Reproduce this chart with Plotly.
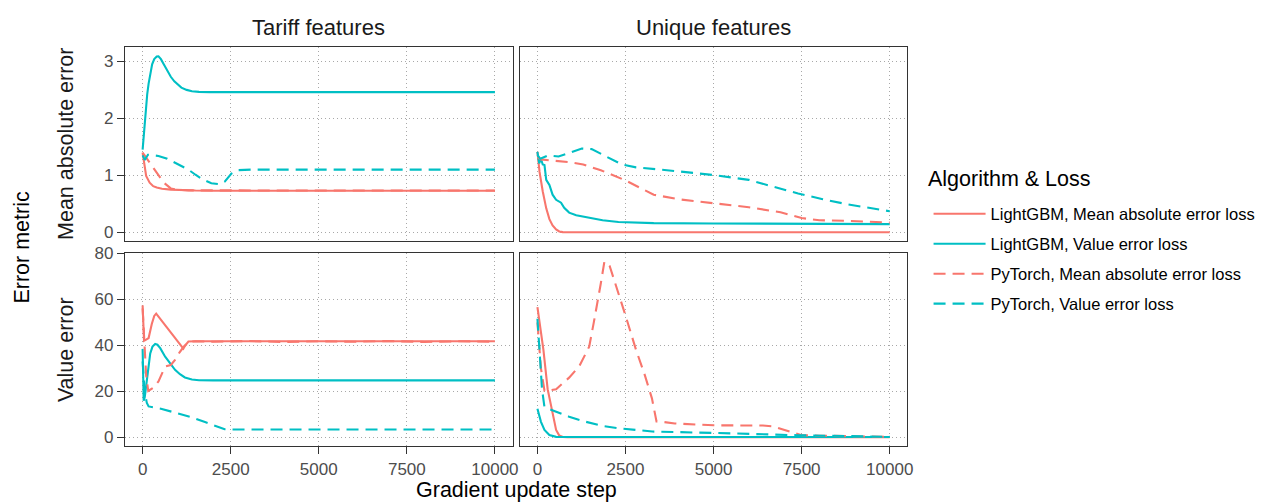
import plotly.graph_objects as go

# ---- data: gradient step vs. error metric, per feature set and series ----
# Tariff features, mean absolute error
tar_mae_lgb_mae_x = [0, 50, 100, 200, 300, 400, 550, 800, 1100, 1500, 2000, 10000]
tar_mae_lgb_mae_y = [1.40, 1.16, 0.99, 0.87, 0.81, 0.785, 0.764, 0.748, 0.738, 0.733, 0.73, 0.73]
tar_mae_lgb_val_x = [0, 40, 80, 130, 170, 220, 270, 330, 400, 450, 520, 600, 700, 800, 900, 1000,
                     1100, 1250, 1400, 1600, 1900, 10000]
tar_mae_lgb_val_y = [1.45, 1.80, 2.13, 2.42, 2.61, 2.80, 2.95, 3.04, 3.085, 3.09, 3.04, 2.95, 2.83,
                     2.73, 2.65, 2.59, 2.54, 2.50, 2.475, 2.465, 2.46, 2.46]
tar_mae_pt_mae_x = [0, 200, 400, 600, 800, 1000, 1300, 10000]
tar_mae_pt_mae_y = [1.40, 1.22, 1.04, 0.87, 0.77, 0.745, 0.735, 0.733]
tar_mae_pt_val_x = [0, 60, 150, 450, 700, 1000, 1300, 1500, 1700, 1950, 2190, 2330, 2520, 2710,
                    3080, 10000]
tar_mae_pt_val_y = [1.35, 1.27, 1.36, 1.34, 1.29, 1.20, 1.10, 1.01, 0.93, 0.86, 0.845, 0.89, 1.03,
                    1.09, 1.10, 1.10]

# Unique features, mean absolute error
uni_mae_lgb_mae_x = [0, 60, 150, 250, 340, 430, 530, 620, 720, 850, 10000]
uni_mae_lgb_mae_y = [1.41, 1.06, 0.72, 0.42, 0.23, 0.12, 0.05, 0.015, 0.003, 0.0, 0.0]
uni_mae_lgb_val_x = [0, 50, 100, 150, 200, 250, 340, 430, 530, 670, 760, 900, 1100, 1400, 1850,
                     2300, 3300, 5000, 7500, 10000]
uni_mae_lgb_val_y = [1.41, 1.21, 1.29, 1.19, 1.18, 0.92, 0.83, 0.66, 0.57, 0.52, 0.43, 0.345, 0.30,
                     0.26, 0.21, 0.18, 0.16, 0.155, 0.148, 0.143]
uni_mae_pt_mae_x = [0, 100, 400, 900, 1300, 1800, 2500, 3300, 4000, 5000, 6000, 6900, 7500, 8000,
                    8800, 10000]
uni_mae_pt_mae_y = [1.32, 1.28, 1.26, 1.23, 1.19, 1.09, 0.91, 0.66, 0.58, 0.505, 0.44, 0.35, 0.25,
                    0.21, 0.20, 0.17]
uni_mae_pt_val_x = [0, 80, 300, 600, 900, 1260, 1540, 1900, 2400, 2800, 3200, 4000, 5000, 6000,
                    6700, 7400, 8100, 8800, 10000]
uni_mae_pt_val_y = [1.36, 1.29, 1.35, 1.33, 1.39, 1.47, 1.46, 1.35, 1.19, 1.14, 1.12, 1.07, 1.005,
                    0.92, 0.80, 0.68, 0.58, 0.49, 0.37]

# Tariff features, value error
tar_val_lgb_mae_x = [0, 40, 100, 170, 260, 330, 385, 700, 900, 1100, 1156, 1200, 1300, 1500, 10000]
tar_val_lgb_mae_y = [57.4, 42.0, 42.5, 43.2, 49.3, 52.8, 53.8, 47.6, 43.7, 39.8, 38.6, 39.8, 41.7,
                     41.8, 41.8]
tar_val_lgb_val_x = [0, 30, 60, 100, 150, 216, 280, 357, 420, 500, 640, 780, 920, 1060, 1200, 1400,
                     1600, 2000, 10000]
tar_val_lgb_val_y = [38.5, 16.0, 17.5, 23.0, 29.5, 36.5, 39.5, 40.6, 40.3, 38.8, 35.1, 32.0, 29.4,
                     27.5, 26.1, 25.2, 24.9, 24.8, 24.8]
tar_val_pt_mae_x = [0, 50, 100, 160, 300, 450, 640, 800, 920, 1050, 1160, 1300, 1500, 2000, 3000,
                    4000, 5000, 6000, 7000, 8000, 9000, 10000]
tar_val_pt_mae_y = [56.0, 38.0, 27.0, 20.2, 21.6, 24.4, 30.8, 31.5, 33.7, 37.0, 39.3, 41.5, 41.8,
                    41.6, 41.9, 41.5, 41.8, 41.6, 41.9, 41.5, 41.8, 41.6]
tar_val_pt_val_x = [0, 60, 120, 170, 545, 921, 1390, 1770, 2140, 2330, 2500, 10000]
tar_val_pt_val_y = [33.0, 19.5, 15.0, 13.5, 12.4, 10.9, 8.8, 6.7, 4.5, 3.6, 3.5, 3.5]

# Unique features, value error
uni_val_lgb_mae_x = [0, 170, 290, 430, 530, 620, 720, 850, 10000]
uni_val_lgb_mae_y = [56.6, 38.1, 21.0, 9.7, 3.3, 0.85, 0.2, 0.1, 0.1]
uni_val_lgb_val_x = [0, 100, 200, 340, 530, 800, 10000]
uni_val_lgb_val_y = [12.5, 6.8, 3.3, 1.1, 0.3, 0.2, 0.2]
uni_val_pt_mae_x = [0, 100, 200, 300, 530, 900, 1190, 1470, 1600, 1700, 1800, 1900, 1960, 2050,
                    2200, 2500, 2800, 3050, 3250, 3380, 3550, 3900, 5000, 6400, 6700, 6900, 7200,
                    7500, 8000, 8800, 10000]
uni_val_pt_mae_y = [50.0, 30.0, 20.3, 20.3, 21.0, 26.0, 31.0, 39.5, 50.0, 58.0, 67.0, 76.3, 76.2,
                    74.5, 67.5, 53.0, 38.0, 27.0, 17.0, 7.0, 6.8, 6.1, 5.3, 5.2, 4.8, 3.8, 2.2,
                    1.0, 0.8, 0.6, 0.3]
uni_val_pt_val_x = [0, 75, 130, 200, 430, 900, 1380, 1850, 2320, 3260, 5000, 7400, 10000]
uni_val_pt_val_y = [51.6, 35.3, 21.0, 13.2, 11.8, 9.0, 6.8, 5.0, 4.0, 2.6, 2.0, 1.0, 0.3]

series_names = ["LightGBM, Mean absolute error loss", "LightGBM, Value error loss",
                "PyTorch, Mean absolute error loss", "PyTorch, Value error loss"]
series_colors = ["#F8766D", "#00BFC4", "#F8766D", "#00BFC4"]
series_dash = ["solid", "solid", "12px,7px", "12px,7px"]

facet_titles = ["Tariff features", "Unique features"]
row_titles = ["Mean absolute error", "Value error"]
legend_title = "Algorithm & Loss"
x_ticks = [0, 2500, 5000, 7500, 10000]
y_ticks_mae = [0, 1, 2, 3]
y_ticks_val = [0, 20, 40, 60, 80]

panels = [
    ("x", "y", [(tar_mae_lgb_mae_x, tar_mae_lgb_mae_y), (tar_mae_lgb_val_x, tar_mae_lgb_val_y),
                (tar_mae_pt_mae_x, tar_mae_pt_mae_y), (tar_mae_pt_val_x, tar_mae_pt_val_y)]),
    ("x2", "y2", [(uni_mae_lgb_mae_x, uni_mae_lgb_mae_y), (uni_mae_lgb_val_x, uni_mae_lgb_val_y),
                  (uni_mae_pt_mae_x, uni_mae_pt_mae_y), (uni_mae_pt_val_x, uni_mae_pt_val_y)]),
    ("x3", "y3", [(tar_val_lgb_mae_x, tar_val_lgb_mae_y), (tar_val_lgb_val_x, tar_val_lgb_val_y),
                  (tar_val_pt_mae_x, tar_val_pt_mae_y), (tar_val_pt_val_x, tar_val_pt_val_y)]),
    ("x4", "y4", [(uni_val_lgb_mae_x, uni_val_lgb_mae_y), (uni_val_lgb_val_x, uni_val_lgb_val_y),
                  (uni_val_pt_mae_x, uni_val_pt_mae_y), (uni_val_pt_val_x, uni_val_pt_val_y)]),
]

W, H = 1261, 504
FONT = "Liberation Sans, Arial, sans-serif"
LINE_W = 2.1

fig = go.Figure()
for p, (xa, ya, lines) in enumerate(panels):
    for i, (xs, ys) in enumerate(lines):
        fig.add_trace(go.Scatter(
            x=xs, y=ys, mode="lines", xaxis=xa, yaxis=ya,
            name=series_names[i], legendgroup=series_names[i], showlegend=(p == 0),
            line=dict(color=series_colors[i], width=LINE_W, dash=series_dash[i]),
            hoverinfo="skip",
        ))

# panel boxes in pixels (left, right) / (top, bottom)
col_px = [(125.6, 515.0), (522.3, 911.7)]
row_px = [(40.2, 237.3), (249.0, 446.3)]


def xdom(c):
    return [col_px[c][0] / W, col_px[c][1] / W]


def ydom(r):
    return [1 - row_px[r][1] / H, 1 - row_px[r][0] / H]


grid = dict(showgrid=True, gridcolor="#A8A8A8", griddash="1px,3px", gridwidth=1, zeroline=False,
            showline=True, mirror=True, linecolor="#333333", linewidth=1.2)
tick_font = dict(family=FONT, size=17, color="#4D4D4D")
x_range = [-500, 10500]
y_range_mae = [-0.1545, 3.2445]
y_range_val = [-3.825, 80.325]

layout_axes = {}
for k, (c, r) in enumerate([(0, 0), (1, 0), (0, 1), (1, 1)]):
    n = "" if k == 0 else str(k + 1)
    bottom = r == 1
    left = c == 0
    layout_axes["xaxis" + n] = dict(
        domain=xdom(c), anchor="y" + n, range=x_range, tickvals=x_ticks,
        ticktext=[str(v) for v in x_ticks], showticklabels=bottom,
        ticks="outside" if bottom else "", ticklen=7, tickwidth=1.4, tickcolor="#333333",
        tickfont=tick_font, **grid)
    layout_axes["yaxis" + n] = dict(
        domain=ydom(r), anchor="x" + n,
        range=y_range_val if bottom else y_range_mae,
        tickvals=y_ticks_val if bottom else y_ticks_mae,
        showticklabels=left, ticks="outside" if left else "", ticklen=7, tickwidth=1.4,
        tickcolor="#333333", tickfont=tick_font, **grid)

annotations = []
for c, t in enumerate(facet_titles):
    annotations.append(dict(text=t, x=(col_px[c][0] + col_px[c][1]) / 2 / W, y=1 - 20 / H,
                            xref="paper", yref="paper", showarrow=False,
                            font=dict(family=FONT, size=22, color="#1A1A1A"),
                            xanchor="center", yanchor="middle"))
for r, t in enumerate(row_titles):
    annotations.append(dict(text=t, x=67 / W, y=1 - (row_px[r][0] + row_px[r][1]) / 2 / H,
                            xref="paper", yref="paper", showarrow=False, textangle=-90,
                            font=dict(family=FONT, size=21.5, color="#1A1A1A"),
                            xanchor="center", yanchor="middle"))
annotations.append(dict(text="Error metric", x=22 / W, y=1 - 243 / H, xref="paper", yref="paper",
                        showarrow=False, textangle=-90,
                        font=dict(family=FONT, size=21.5, color="black"),
                        xanchor="center", yanchor="middle"))
annotations.append(dict(text="Gradient update step", x=(125.6 + 911.7) / 2 / W, y=1 - 491 / H,
                        xref="paper", yref="paper", showarrow=False,
                        font=dict(family=FONT, size=21.5, color="black"),
                        xanchor="center", yanchor="middle"))
annotations.append(dict(text=legend_title, x=930 / W, y=1 - 174 / H, xref="paper", yref="paper",
                        showarrow=False, font=dict(family=FONT, size=21.5, color="black"),
                        xanchor="left", yanchor="middle"))

fig.update_layout(
    width=W, height=H, margin=dict(l=0, r=0, t=0, b=0),
    paper_bgcolor="white", plot_bgcolor="white",
    font=dict(family=FONT),
    showlegend=True,
    legend=dict(
        font=dict(family=FONT, size=16.5, color="black"),
        x=933 / W, xanchor="left", y=1 - 192 / H, yanchor="top",
        tracegroupgap=5.5, itemwidth=52, bgcolor="rgba(0,0,0,0)",
    ),
    annotations=annotations,
    **layout_axes,
)

fig.write_html("out.html")
